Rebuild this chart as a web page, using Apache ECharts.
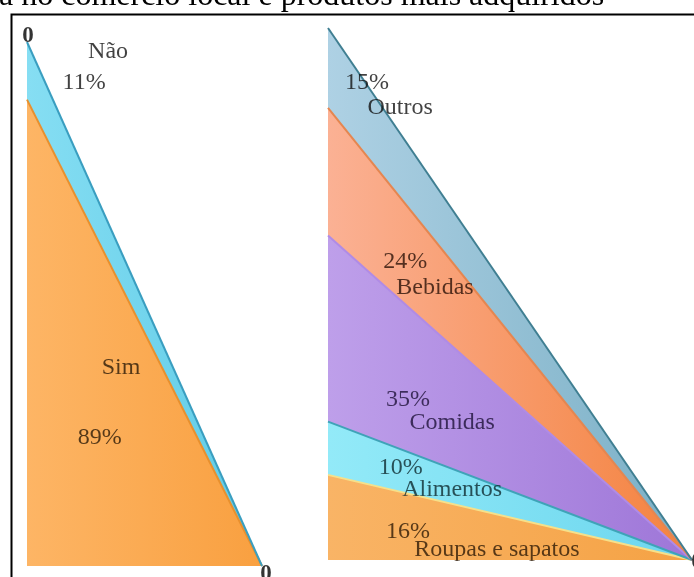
<!DOCTYPE html>
<html>
<head>
<meta charset="utf-8">
<script src="https://cdn.jsdelivr.net/npm/echarts@6/dist/echarts.min.js"></script>
<style>
  html, body { margin: 0; padding: 0; background: #fff; }
  #chart { width: 694px; height: 577px; }
</style>
</head>
<body>
<div id="chart"></div>
<script>
// Left fan: buys in local commerce (Sim / Não), shares in percent
const buyCategories = ['Sim', 'Não'];
const buyValues = [89, 11];

// Right fan: most purchased products, bottom to top, shares in percent
const productCategories = ['Roupas e sapatos', 'Alimentos', 'Comidas', 'Bebidas', 'Outros'];
const productValues = [16, 10, 35, 24, 15];

// The two ends of each fan: full share on the left edge, zero at the tip
const fanEnds = ['edge', 'tip'];

const titleText = 'a no comércio local e produtos mais adquiridos';

// Fill colours (light edge -> shaded edge), outline and text colour per slice
const buyStyles = [
  { c0: '#FDB565', c1: '#F9A040', line: '#E8902E', text: '#2A1A08' },
  { c0: '#86DEF3', c1: '#5FCBE6', line: '#3A9EC0', text: '#111111' }
];
const productStyles = [
  { c0: '#F9B466', c1: '#F5A244', line: '#F6E08A', text: '#2E1A06' },
  { c0: '#93EAF8', c1: '#6CD6EE', line: '#3FA3B8', text: '#0E2A30' },
  { c0: '#BE9FEA', c1: '#9E76D8', line: '#B08BE6', text: '#1E1238' },
  { c0: '#FBB194', c1: '#F4823E', line: '#E58650', text: '#2A1208' },
  { c0: '#AED1E4', c1: '#7AAFC5', line: '#407F92', text: '#111111' }
];

// Label anchors in data units: [x fraction, stacked value]
const buyLabelSpots = {
  'Não': [0.345, 98.1], 'Não%': [0.243, 92.2],
  'Sim': [0.40, 37.8], 'Sim%': [0.31, 24.4]
};
const productLabelSpots = {
  'Outros': [0.198, 85.0], 'Outros%': [0.107, 89.8],
  'Bebidas': [0.294, 51.1], 'Bebidas%': [0.212, 56.0],
  'Comidas': [0.341, 25.9], 'Comidas%': [0.22, 30.1],
  'Alimentos': [0.341, 13.2], 'Alimentos%': [0.20, 17.3],
  'Roupas e sapatos': [0.464, 1.9], 'Roupas e sapatos%': [0.22, 5.3]
};

const textFont = {
  fontFamily: 'Liberation Serif', fontSize: 24, color: '#111',
  textBorderWidth: 0, textShadowBlur: 0
};

function fanSeries(cats, vals, styles, gridIdx, stackName) {
  return cats.map((name, i) => ({
    name: name,
    type: 'line',
    xAxisIndex: gridIdx,
    yAxisIndex: gridIdx,
    stack: stackName,
    data: [vals[i], 0],
    showSymbol: false,
    symbol: 'none',
    silent: true,
    lineStyle: { color: styles[i].line, width: 2 },
    areaStyle: {
      opacity: 1,
      color: {
        type: 'linear', x: 0, y: 0, x2: 1, y2: 0,
        colorStops: [
          { offset: 0, color: styles[i].c0 },
          { offset: 1, color: styles[i].c1 }
        ]
      }
    },
    z: 2
  }));
}

function labelSeries(cats, vals, styles, spots, gridIdx) {
  const data = [];
  cats.forEach((name, i) => {
    data.push({ value: spots[name + '%'], label: { formatter: vals[i] + '%', color: styles[i].text } });
    data.push({ value: spots[name], label: { formatter: name, color: styles[i].text } });
  });
  return {
    type: 'scatter',
    xAxisIndex: gridIdx,
    yAxisIndex: gridIdx,
    symbolSize: 0,
    silent: true,
    z: 5,
    label: Object.assign({ show: true, position: 'inside' }, textFont),
    data: data
  };
}

// Zero labels at the ends of the fans
const zeroFont = Object.assign({}, textFont, { color: '#000', fontWeight: 'bold', fontSize: 23 });
const zeroSeries = [
  {
    type: 'scatter', xAxisIndex: 2, yAxisIndex: 2, symbolSize: 0, silent: true, z: 5,
    label: Object.assign({ show: true, formatter: '0' }, zeroFont),
    data: [
      { value: [0, 100], label: { position: 'top', distance: 0, offset: [1, 6] } },
      { value: [1, 0], label: { position: 'bottom', distance: -3, offset: [4, 0] } }
    ]
  },
  {
    type: 'scatter', xAxisIndex: 3, yAxisIndex: 3, symbolSize: 0, silent: true, z: 5,
    label: Object.assign({ show: true, formatter: '0' }, zeroFont),
    data: [{ value: [1, 0], label: { position: 'inside', offset: [5, 2] } }]
  }
];

const leftBox = { left: 27, top: 42, width: 235, height: 524 };
const rightBox = { left: 328, top: 28, width: 364, height: 532 };

function catAxis(idx) {
  return { type: 'category', gridIndex: idx, data: fanEnds, boundaryGap: false, show: false };
}
function valAxisX(idx) {
  return { type: 'value', gridIndex: idx, min: 0, max: 1, show: false };
}
function valAxisY(idx) {
  return { type: 'value', gridIndex: idx, min: 0, max: 100, show: false };
}

const option = {
  animation: false,
  backgroundColor: '#fff',
  // grids 0/1 hold the fans, grids 2/3 overlay them for the text anchors
  grid: [leftBox, rightBox, leftBox, rightBox],
  xAxis: [catAxis(0), catAxis(1), valAxisX(2), valAxisX(3)],
  yAxis: [valAxisY(0), valAxisY(1), valAxisY(2), valAxisY(3)],
  graphic: [
    {
      type: 'rect', left: 9, top: 12, z: 0, silent: true,
      shape: { width: 720, height: 620 },
      style: { fill: 'none', stroke: '#000', lineWidth: 2 }
    },
    {
      type: 'text', left: -1, top: -19, z: 10, silent: true,
      style: { text: titleText, font: '32px "Liberation Serif"', fill: '#000' }
    }
  ],
  series: [].concat(
    fanSeries(buyCategories, buyValues, buyStyles, 0, 'buy'),
    fanSeries(productCategories, productValues, productStyles, 1, 'products'),
    [labelSeries(buyCategories, buyValues, buyStyles, buyLabelSpots, 2),
     labelSeries(productCategories, productValues, productStyles, productLabelSpots, 3)],
    zeroSeries
  )
};

const chart = echarts.init(document.getElementById('chart'), null, { renderer: 'canvas' });
chart.setOption(option);
</script>
</body>
</html>
